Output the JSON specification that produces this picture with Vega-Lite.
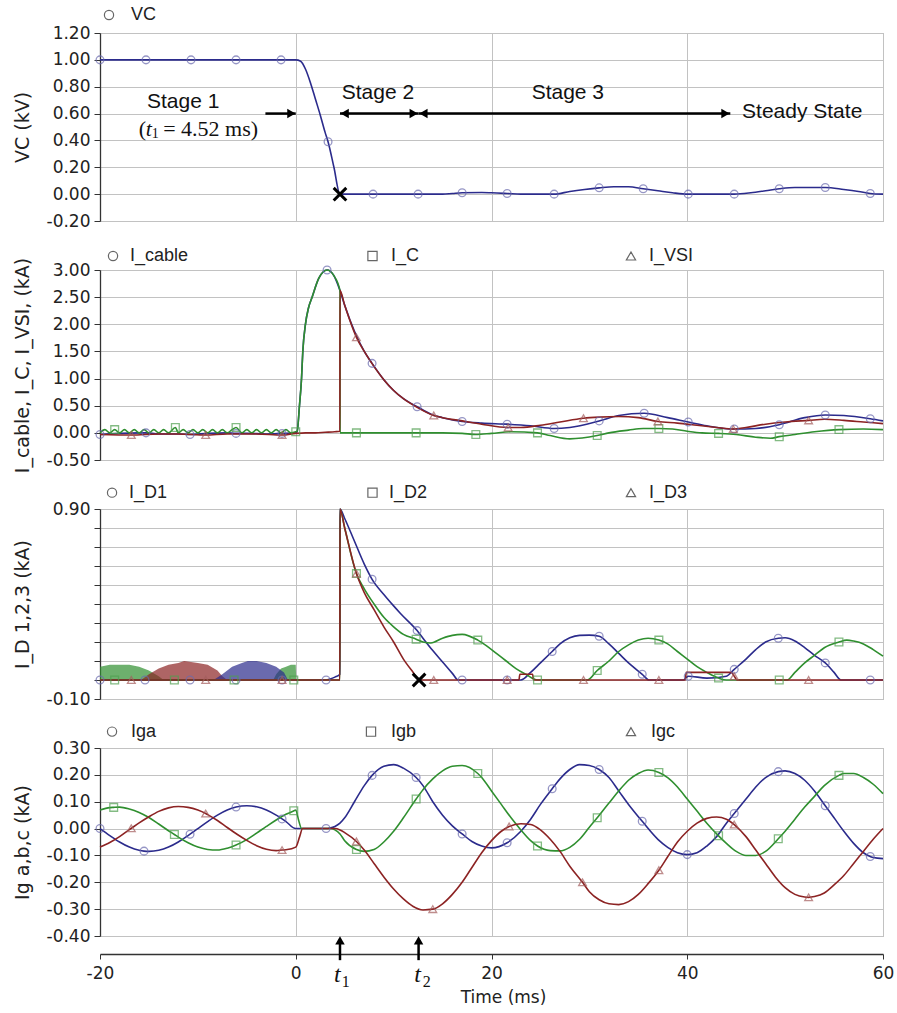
{
"$schema": "https://vega.github.io/schema/vega-lite/v6.json",
"padding": {"left": 12, "top": 5, "right": 5, "bottom": 5},
"config": {
  "font": "Liberation Sans",
  "view": {"stroke": "#a8a8a8", "strokeWidth": 1},
  "axis": {"labelFontSize": 17, "titleFontSize": 17, "labelColor": "#222", "titleColor": "#222", "titleFontWeight": "normal", "labelFont": "DejaVu Sans", "titleFont": "DejaVu Sans", "gridColor": "#c2c2c2", "gridWidth": 1, "domainColor": "#333", "tickColor": "#333"},
  "axisY": {"tickSize": 6, "labelPadding": 4, "titlePadding": 14, "titleFontSize": 19, "domainWidth": 1.3}
},
"spacing": 49,
"bounds": "flush",
"resolve": {"scale": {"y": "independent", "color": "independent", "stroke": "independent", "shape": "independent"}},
"datasets": {
  "tl": [{"t": 4.52}, {"t": 12.55}],
  "vc": [
    {"t":-20,"v":1,"s":"VC","m":1},{"t":-15.3,"v":1,"s":"VC","m":1},{"t":-10.7,"v":1,"s":"VC","m":1},{"t":-6.1,"v":1,"s":"VC","m":1},{"t":-1.5,"v":1,"s":"VC","m":1},
    {"t":0,"v":1,"s":"VC"},{"t":0.5,"v":0.99,"s":"VC"},{"t":1,"v":0.93,"s":"VC"},{"t":1.5,"v":0.83,"s":"VC"},{"t":2,"v":0.71,"s":"VC"},{"t":2.5,"v":0.59,"s":"VC"},{"t":3,"v":0.46,"s":"VC"},
    {"t":3.3,"v":0.39,"s":"VC","m":1},{"t":3.9,"v":0.2,"s":"VC"},{"t":4.52,"v":0,"s":"VC"},{"t":7.9,"v":0,"s":"VC","m":1},{"t":12.5,"v":0,"s":"VC","m":1},
    {"t":15,"v":0,"s":"VC"},{"t":16,"v":0.005,"s":"VC"},{"t":17,"v":0.01,"s":"VC","m":1},{"t":19,"v":0.012,"s":"VC"},{"t":20,"v":0.01,"s":"VC"},{"t":21.6,"v":0.005,"s":"VC","m":1},
    {"t":23,"v":0,"s":"VC"},{"t":26.4,"v":0,"s":"VC","m":1},{"t":28,"v":0.02,"s":"VC"},{"t":29.5,"v":0.035,"s":"VC"},{"t":31,"v":0.047,"s":"VC","m":1},{"t":32.5,"v":0.055,"s":"VC"},
    {"t":34,"v":0.055,"s":"VC"},{"t":35.5,"v":0.04,"s":"VC","m":1},{"t":37,"v":0.025,"s":"VC"},{"t":38.5,"v":0.01,"s":"VC"},{"t":40.1,"v":0,"s":"VC","m":1},{"t":44.8,"v":0,"s":"VC","m":1},
    {"t":46.5,"v":0.01,"s":"VC"},{"t":48,"v":0.025,"s":"VC"},{"t":49.4,"v":0.04,"s":"VC","m":1},{"t":51,"v":0.05,"s":"VC"},{"t":54.1,"v":0.05,"s":"VC","m":1},{"t":56,"v":0.035,"s":"VC"},
    {"t":57.5,"v":0.02,"s":"VC"},{"t":58.7,"v":0.005,"s":"VC","m":1},{"t":60,"v":0,"s":"VC"}
  ],
  "p2": [
    {"t":-20,"v":-0.03,"s":"I_cable","m":1},{"t":-18,"v":-0.01,"s":"I_cable"},{"t":-16,"v":0,"s":"I_cable"},{"t":-15.3,"v":0,"s":"I_cable","m":1},{"t":-14,"v":-0.02,"s":"I_cable"},
    {"t":-12,"v":-0.02,"s":"I_cable"},{"t":-10.8,"v":-0.03,"s":"I_cable","m":1},{"t":-9,"v":-0.01,"s":"I_cable"},{"t":-7,"v":0,"s":"I_cable"},{"t":-6.1,"v":-0.01,"s":"I_cable","m":1},
    {"t":-5,"v":-0.01,"s":"I_cable"},{"t":-3,"v":-0.02,"s":"I_cable"},{"t":-1.4,"v":-0.01,"s":"I_cable","m":1},{"t":0,"v":0,"s":"I_cable"},{"t":0.14,"v":0.02,"s":"I_cable"},
    {"t":0.38,"v":0.5,"s":"I_cable"},{"t":0.59,"v":1.0,"s":"I_cable"},{"t":0.72,"v":1.5,"s":"I_cable"},{"t":0.99,"v":2.0,"s":"I_cable"},{"t":1.3,"v":2.3,"s":"I_cable"},
    {"t":1.67,"v":2.5,"s":"I_cable"},{"t":2.36,"v":2.85,"s":"I_cable"},{"t":3.2,"v":3.0,"s":"I_cable","m":1},{"t":3.88,"v":2.9,"s":"I_cable"},{"t":4.52,"v":2.62,"s":"I_cable"},
    {"t":5,"v":2.35,"s":"I_cable"},{"t":6,"v":1.87,"s":"I_cable"},{"t":7,"v":1.5,"s":"I_cable"},{"t":7.8,"v":1.28,"s":"I_cable","m":1},{"t":9,"v":0.98,"s":"I_cable"},
    {"t":10,"v":0.78,"s":"I_cable"},{"t":11,"v":0.63,"s":"I_cable"},{"t":12.4,"v":0.48,"s":"I_cable","m":1},{"t":13,"v":0.42,"s":"I_cable"},{"t":14,"v":0.33,"s":"I_cable"},
    {"t":15,"v":0.28,"s":"I_cable"},{"t":17,"v":0.21,"s":"I_cable","m":1},{"t":19,"v":0.18,"s":"I_cable"},{"t":21.6,"v":0.16,"s":"I_cable","m":1},{"t":24,"v":0.13,"s":"I_cable"},
    {"t":26.4,"v":0.08,"s":"I_cable","m":1},{"t":28,"v":0.1,"s":"I_cable"},{"t":31,"v":0.22,"s":"I_cable","m":1},{"t":33,"v":0.32,"s":"I_cable"},{"t":35.6,"v":0.36,"s":"I_cable","m":1},
    {"t":38,"v":0.28,"s":"I_cable"},{"t":40.1,"v":0.2,"s":"I_cable","m":1},{"t":42,"v":0.13,"s":"I_cable"},{"t":44.8,"v":0.07,"s":"I_cable","m":1},{"t":47,"v":0.08,"s":"I_cable"},
    {"t":49.4,"v":0.15,"s":"I_cable","m":1},{"t":52,"v":0.28,"s":"I_cable"},{"t":54.1,"v":0.33,"s":"I_cable","m":1},{"t":56,"v":0.32,"s":"I_cable"},{"t":58.7,"v":0.26,"s":"I_cable","m":1},
    {"t":60,"v":0.22,"s":"I_cable"},

    {"t":-20,"v":0,"s":"I_C"},{"t":-19.5,"v":0.06,"s":"I_C"},{"t":-19,"v":0,"s":"I_C"},{"t":-18.5,"v":0.06,"s":"I_C","m":1},{"t":-18,"v":0,"s":"I_C"},{"t":-17.5,"v":0.06,"s":"I_C"},
    {"t":-17,"v":0,"s":"I_C"},{"t":-16.5,"v":0.06,"s":"I_C"},{"t":-16,"v":0,"s":"I_C"},{"t":-15.5,"v":0.06,"s":"I_C"},{"t":-15,"v":0,"s":"I_C"},{"t":-14.5,"v":0.06,"s":"I_C"},
    {"t":-14,"v":0,"s":"I_C"},{"t":-13.5,"v":0.06,"s":"I_C"},{"t":-13,"v":0,"s":"I_C"},{"t":-12.3,"v":0.1,"s":"I_C","m":1},{"t":-12,"v":0,"s":"I_C"},{"t":-11.5,"v":0.06,"s":"I_C"},
    {"t":-11,"v":0,"s":"I_C"},{"t":-10.5,"v":0.06,"s":"I_C"},{"t":-10,"v":0,"s":"I_C"},{"t":-9.5,"v":0.06,"s":"I_C"},{"t":-9,"v":0,"s":"I_C"},{"t":-8.5,"v":0.06,"s":"I_C"},
    {"t":-8,"v":0,"s":"I_C"},{"t":-7.5,"v":0.06,"s":"I_C"},{"t":-7,"v":0,"s":"I_C"},{"t":-6.5,"v":0.06,"s":"I_C"},{"t":-6.1,"v":0.1,"s":"I_C","m":1},{"t":-5.5,"v":0,"s":"I_C"},
    {"t":-5,"v":0.06,"s":"I_C"},{"t":-4.5,"v":0,"s":"I_C"},{"t":-4,"v":0.06,"s":"I_C"},{"t":-3.5,"v":0,"s":"I_C"},{"t":-3,"v":0.06,"s":"I_C"},{"t":-2.5,"v":0,"s":"I_C"},
    {"t":-2,"v":0.06,"s":"I_C"},{"t":-1.5,"v":0,"s":"I_C"},{"t":-1,"v":0.06,"s":"I_C"},{"t":-0.5,"v":0,"s":"I_C"},{"t":0,"v":0.02,"s":"I_C","m":1},{"t":0.14,"v":0.03,"s":"I_C"},
    {"t":0.38,"v":0.5,"s":"I_C"},{"t":0.59,"v":1.0,"s":"I_C"},{"t":0.72,"v":1.5,"s":"I_C"},{"t":0.99,"v":2.0,"s":"I_C"},{"t":1.3,"v":2.3,"s":"I_C"},{"t":1.67,"v":2.5,"s":"I_C"},
    {"t":2.36,"v":2.85,"s":"I_C"},{"t":3.2,"v":3.0,"s":"I_C"},{"t":3.88,"v":2.9,"s":"I_C"},{"t":4.52,"v":2.62,"s":"I_C"},{"t":4.53,"v":0,"s":"I_C"},{"t":6.2,"v":0,"s":"I_C","m":1},
    {"t":12.3,"v":0,"s":"I_C","m":1},{"t":15,"v":0,"s":"I_C"},{"t":17,"v":-0.01,"s":"I_C"},{"t":18.4,"v":-0.03,"s":"I_C","m":1},{"t":20,"v":-0.01,"s":"I_C"},{"t":22,"v":0.02,"s":"I_C"},
    {"t":24.7,"v":0,"s":"I_C","m":1},{"t":26,"v":-0.05,"s":"I_C"},{"t":28,"v":-0.11,"s":"I_C"},{"t":30.8,"v":-0.05,"s":"I_C","m":1},{"t":32,"v":0,"s":"I_C"},{"t":34,"v":0.05,"s":"I_C"},
    {"t":35.5,"v":0.08,"s":"I_C"},{"t":37.1,"v":0.08,"s":"I_C","m":1},{"t":38.5,"v":0.07,"s":"I_C"},{"t":40,"v":0.03,"s":"I_C"},{"t":41.5,"v":0,"s":"I_C"},{"t":43.2,"v":-0.01,"s":"I_C","m":1},
    {"t":45,"v":-0.03,"s":"I_C"},{"t":47,"v":-0.08,"s":"I_C"},{"t":48.5,"v":-0.1,"s":"I_C"},{"t":49.4,"v":-0.07,"s":"I_C","m":1},{"t":51,"v":-0.03,"s":"I_C"},{"t":53,"v":0.02,"s":"I_C"},
    {"t":55.5,"v":0.06,"s":"I_C","m":1},{"t":58,"v":0.07,"s":"I_C"},{"t":60,"v":0.06,"s":"I_C"},

    {"t":-20,"v":-0.03,"s":"I_VSI"},{"t":-16.8,"v":-0.04,"s":"I_VSI","m":1},{"t":-14,"v":-0.02,"s":"I_VSI"},{"t":-12,"v":-0.02,"s":"I_VSI"},{"t":-9.2,"v":-0.04,"s":"I_VSI","m":1},
    {"t":-7,"v":-0.02,"s":"I_VSI"},{"t":-4,"v":-0.02,"s":"I_VSI"},{"t":-1.4,"v":-0.04,"s":"I_VSI","m":1},{"t":0,"v":-0.01,"s":"I_VSI"},{"t":1,"v":0,"s":"I_VSI"},{"t":2,"v":0,"s":"I_VSI"},
    {"t":3,"v":0.01,"s":"I_VSI"},{"t":4,"v":0.02,"s":"I_VSI"},{"t":4.51,"v":0.03,"s":"I_VSI"},{"t":4.52,"v":2.62,"s":"I_VSI"},{"t":5,"v":2.35,"s":"I_VSI"},{"t":6.2,"v":1.76,"s":"I_VSI","m":1},
    {"t":7,"v":1.5,"s":"I_VSI"},{"t":8,"v":1.22,"s":"I_VSI"},{"t":9,"v":0.98,"s":"I_VSI"},{"t":10,"v":0.78,"s":"I_VSI"},{"t":11,"v":0.63,"s":"I_VSI"},{"t":12.4,"v":0.47,"s":"I_VSI"},
    {"t":14.1,"v":0.32,"s":"I_VSI","m":1},{"t":15,"v":0.28,"s":"I_VSI"},{"t":17,"v":0.22,"s":"I_VSI"},{"t":19,"v":0.16,"s":"I_VSI"},{"t":21.7,"v":0.1,"s":"I_VSI","m":1},{"t":23,"v":0.1,"s":"I_VSI"},
    {"t":25,"v":0.14,"s":"I_VSI"},{"t":27,"v":0.2,"s":"I_VSI"},{"t":29.4,"v":0.27,"s":"I_VSI","m":1},{"t":31,"v":0.29,"s":"I_VSI"},{"t":33,"v":0.3,"s":"I_VSI"},{"t":35,"v":0.28,"s":"I_VSI"},
    {"t":37,"v":0.21,"s":"I_VSI","m":1},{"t":39,"v":0.18,"s":"I_VSI"},{"t":41,"v":0.14,"s":"I_VSI"},{"t":43,"v":0.1,"s":"I_VSI"},{"t":44.7,"v":0.07,"s":"I_VSI","m":1},{"t":46,"v":0.1,"s":"I_VSI"},
    {"t":48,"v":0.16,"s":"I_VSI"},{"t":50,"v":0.2,"s":"I_VSI"},{"t":52.4,"v":0.23,"s":"I_VSI","m":1},{"t":54,"v":0.25,"s":"I_VSI"},{"t":56,"v":0.23,"s":"I_VSI"},{"t":58,"v":0.2,"s":"I_VSI"},
    {"t":60,"v":0.17,"s":"I_VSI"}
  ],
  "p3": [
    {"t":-20,"v":0,"s":"I_D1","m":1},{"t":-15.4,"v":0,"s":"I_D1","m":1},{"t":-10.8,"v":0,"s":"I_D1","m":1},{"t":-6.1,"v":0,"s":"I_D1","m":1},{"t":-1.4,"v":0,"s":"I_D1","m":1},
    {"t":3.1,"v":0,"s":"I_D1","m":1},{"t":3.5,"v":0.005,"s":"I_D1"},{"t":4,"v":0.015,"s":"I_D1"},{"t":4.51,"v":0.03,"s":"I_D1"},{"t":4.52,"v":0.9,"s":"I_D1"},{"t":5,"v":0.85,"s":"I_D1"},
    {"t":6,"v":0.73,"s":"I_D1"},{"t":7,"v":0.61,"s":"I_D1"},{"t":7.8,"v":0.53,"s":"I_D1","m":1},{"t":9,"v":0.45,"s":"I_D1"},{"t":10,"v":0.39,"s":"I_D1"},{"t":10.7,"v":0.35,"s":"I_D1"},
    {"t":12.4,"v":0.26,"s":"I_D1","m":1},{"t":13,"v":0.22,"s":"I_D1"},{"t":14,"v":0.155,"s":"I_D1"},{"t":15,"v":0.095,"s":"I_D1"},{"t":16,"v":0.035,"s":"I_D1"},{"t":16.6,"v":0,"s":"I_D1"},
    {"t":17,"v":0,"s":"I_D1","m":1},{"t":21.6,"v":0,"s":"I_D1","m":1},{"t":23,"v":0,"s":"I_D1"},{"t":24,"v":0.04,"s":"I_D1"},{"t":25,"v":0.09,"s":"I_D1"},{"t":26.2,"v":0.15,"s":"I_D1","m":1},
    {"t":27,"v":0.19,"s":"I_D1"},{"t":28,"v":0.222,"s":"I_D1"},{"t":29,"v":0.235,"s":"I_D1"},{"t":30,"v":0.236,"s":"I_D1"},{"t":31,"v":0.23,"s":"I_D1","m":1},{"t":32,"v":0.19,"s":"I_D1"},
    {"t":33,"v":0.14,"s":"I_D1"},{"t":34,"v":0.09,"s":"I_D1"},{"t":35.4,"v":0.03,"s":"I_D1","m":1},{"t":36.1,"v":0,"s":"I_D1"},{"t":39.6,"v":0,"s":"I_D1"},{"t":40.1,"v":0.02,"s":"I_D1","m":1},
    {"t":42,"v":0.01,"s":"I_D1"},{"t":44,"v":0.02,"s":"I_D1"},{"t":44.8,"v":0.056,"s":"I_D1","m":1},{"t":46,"v":0.11,"s":"I_D1"},{"t":47,"v":0.16,"s":"I_D1"},{"t":48,"v":0.2,"s":"I_D1"},
    {"t":49.3,"v":0.22,"s":"I_D1","m":1},{"t":50,"v":0.222,"s":"I_D1"},{"t":51,"v":0.205,"s":"I_D1"},{"t":52,"v":0.17,"s":"I_D1"},{"t":53,"v":0.13,"s":"I_D1"},{"t":54.1,"v":0.09,"s":"I_D1","m":1},
    {"t":55,"v":0.04,"s":"I_D1"},{"t":55.7,"v":0,"s":"I_D1"},{"t":58.7,"v":0,"s":"I_D1","m":1},{"t":60,"v":0,"s":"I_D1"},

    {"t":-20,"v":0,"s":"I_D2"},{"t":-18.5,"v":0,"s":"I_D2","m":1},{"t":-12.4,"v":0,"s":"I_D2","m":1},{"t":-6.3,"v":0,"s":"I_D2","m":1},{"t":-0.2,"v":0,"s":"I_D2","m":1},{"t":4.51,"v":0,"s":"I_D2"},
    {"t":4.52,"v":0.9,"s":"I_D2"},{"t":5,"v":0.8,"s":"I_D2"},{"t":6.2,"v":0.56,"s":"I_D2","m":1},{"t":7,"v":0.48,"s":"I_D2"},{"t":8,"v":0.4,"s":"I_D2"},{"t":9,"v":0.33,"s":"I_D2"},
    {"t":10,"v":0.28,"s":"I_D2"},{"t":11,"v":0.24,"s":"I_D2"},{"t":12.3,"v":0.215,"s":"I_D2","m":1},{"t":13,"v":0.2,"s":"I_D2"},{"t":13.8,"v":0.195,"s":"I_D2"},{"t":15,"v":0.22,"s":"I_D2"},
    {"t":16,"v":0.235,"s":"I_D2"},{"t":17,"v":0.24,"s":"I_D2"},{"t":18.6,"v":0.21,"s":"I_D2","m":1},{"t":19.5,"v":0.18,"s":"I_D2"},{"t":20.5,"v":0.14,"s":"I_D2"},{"t":21.5,"v":0.1,"s":"I_D2"},
    {"t":22.5,"v":0.06,"s":"I_D2"},{"t":23.5,"v":0.03,"s":"I_D2"},{"t":24.7,"v":0,"s":"I_D2","m":1},{"t":29.8,"v":0,"s":"I_D2"},{"t":30.8,"v":0.05,"s":"I_D2","m":1},{"t":32,"v":0.1,"s":"I_D2"},
    {"t":33,"v":0.15,"s":"I_D2"},{"t":34,"v":0.185,"s":"I_D2"},{"t":35,"v":0.21,"s":"I_D2"},{"t":36,"v":0.22,"s":"I_D2"},{"t":37.1,"v":0.21,"s":"I_D2","m":1},{"t":38,"v":0.19,"s":"I_D2"},
    {"t":39,"v":0.15,"s":"I_D2"},{"t":40,"v":0.11,"s":"I_D2"},{"t":41,"v":0.07,"s":"I_D2"},{"t":42,"v":0.04,"s":"I_D2"},{"t":43.2,"v":0.01,"s":"I_D2","m":1},{"t":44,"v":0,"s":"I_D2"},
    {"t":49.4,"v":0,"s":"I_D2","m":1},{"t":50.2,"v":0,"s":"I_D2"},{"t":51,"v":0.04,"s":"I_D2"},{"t":52,"v":0.09,"s":"I_D2"},{"t":53,"v":0.13,"s":"I_D2"},{"t":54,"v":0.17,"s":"I_D2"},
    {"t":55.5,"v":0.2,"s":"I_D2","m":1},{"t":56.3,"v":0.21,"s":"I_D2"},{"t":57,"v":0.205,"s":"I_D2"},{"t":58,"v":0.19,"s":"I_D2"},{"t":59,"v":0.16,"s":"I_D2"},{"t":60,"v":0.126,"s":"I_D2"},

    {"t":-20,"v":0,"s":"I_D3"},{"t":-16.8,"v":0,"s":"I_D3","m":1},{"t":-9.2,"v":0,"s":"I_D3","m":1},{"t":-1.4,"v":0,"s":"I_D3","m":1},{"t":4.51,"v":0,"s":"I_D3"},{"t":4.52,"v":0.9,"s":"I_D3"},
    {"t":5,"v":0.8,"s":"I_D3"},{"t":6.2,"v":0.56,"s":"I_D3","m":1},{"t":7,"v":0.46,"s":"I_D3"},{"t":8,"v":0.37,"s":"I_D3"},{"t":9,"v":0.28,"s":"I_D3"},{"t":10,"v":0.2,"s":"I_D3"},
    {"t":11,"v":0.11,"s":"I_D3"},{"t":12,"v":0.04,"s":"I_D3"},{"t":12.6,"v":0,"s":"I_D3"},{"t":14.1,"v":0,"s":"I_D3","m":1},{"t":21.6,"v":0,"s":"I_D3","m":1},{"t":22.8,"v":0,"s":"I_D3"},
    {"t":22.9,"v":0.03,"s":"I_D3"},{"t":24.2,"v":0.03,"s":"I_D3"},{"t":24.3,"v":0,"s":"I_D3"},{"t":29.4,"v":0,"s":"I_D3","m":1},{"t":37.1,"v":0,"s":"I_D3","m":1},{"t":39.8,"v":0,"s":"I_D3"},
    {"t":39.9,"v":0.04,"s":"I_D3"},{"t":44.5,"v":0.04,"s":"I_D3"},{"t":44.8,"v":0.02,"s":"I_D3","m":1},{"t":45.1,"v":0,"s":"I_D3"},{"t":52.4,"v":0,"s":"I_D3","m":1},{"t":60,"v":0,"s":"I_D3"}
  ],
  "chat": [
    {"t":-20,"v":0.07,"s":"I_D2"},{"t":-19,"v":0.08,"s":"I_D2"},{"t":-18,"v":0.08,"s":"I_D2"},{"t":-17,"v":0.08,"s":"I_D2"},{"t":-16,"v":0.07,"s":"I_D2"},{"t":-15,"v":0.05,"s":"I_D2"},
    {"t":-14,"v":0.02,"s":"I_D2"},{"t":-13.5,"v":0,"s":"I_D2"},{"t":-2.3,"v":0,"s":"I_D2"},{"t":-2,"v":0.03,"s":"I_D2"},{"t":-1.5,"v":0.06,"s":"I_D2"},{"t":-1,"v":0.07,"s":"I_D2"},
    {"t":-0.5,"v":0.08,"s":"I_D2"},{"t":0,"v":0.08,"s":"I_D2"},{"t":0.05,"v":0,"s":"I_D2"},
    {"t":-15.8,"v":0,"s":"I_D3"},{"t":-15,"v":0.03,"s":"I_D3"},{"t":-14,"v":0.06,"s":"I_D3"},{"t":-13,"v":0.08,"s":"I_D3"},{"t":-12,"v":0.09,"s":"I_D3"},{"t":-11.4,"v":0.1,"s":"I_D3"},
    {"t":-10,"v":0.09,"s":"I_D3"},{"t":-9,"v":0.08,"s":"I_D3"},{"t":-8,"v":0.05,"s":"I_D3"},{"t":-7.5,"v":0.02,"s":"I_D3"},{"t":-7,"v":0,"s":"I_D3"},
    {"t":-8.4,"v":0,"s":"I_D1"},{"t":-7.5,"v":0.03,"s":"I_D1"},{"t":-6.5,"v":0.07,"s":"I_D1"},{"t":-5.5,"v":0.09,"s":"I_D1"},{"t":-4.9,"v":0.1,"s":"I_D1"},{"t":-4,"v":0.1,"s":"I_D1"},
    {"t":-3,"v":0.09,"s":"I_D1"},{"t":-2,"v":0.07,"s":"I_D1"},{"t":-1.2,"v":0.04,"s":"I_D1"},{"t":-0.8,"v":0,"s":"I_D1"}
  ],
  "p4": [
    {"t":-20,"v":0,"s":"Iga","m":1},{"t":-19,"v":-0.026,"s":"Iga"},{"t":-18,"v":-0.05,"s":"Iga"},{"t":-17,"v":-0.069,"s":"Iga"},{"t":-16,"v":-0.081,"s":"Iga"},{"t":-15.5,"v":-0.084,"s":"Iga","m":1},
    {"t":-15,"v":-0.085,"s":"Iga"},{"t":-14,"v":-0.081,"s":"Iga"},{"t":-13,"v":-0.069,"s":"Iga"},{"t":-12,"v":-0.05,"s":"Iga"},{"t":-11,"v":-0.026,"s":"Iga"},{"t":-10.8,"v":-0.021,"s":"Iga","m":1},
    {"t":-10,"v":0,"s":"Iga"},{"t":-9,"v":0.026,"s":"Iga"},{"t":-8,"v":0.05,"s":"Iga"},{"t":-7,"v":0.069,"s":"Iga"},{"t":-6.1,"v":0.08,"s":"Iga","m":1},{"t":-5,"v":0.085,"s":"Iga"},
    {"t":-4,"v":0.081,"s":"Iga"},{"t":-3,"v":0.069,"s":"Iga"},{"t":-2,"v":0.05,"s":"Iga"},{"t":-1.4,"v":0.036,"s":"Iga","m":1},{"t":-1,"v":0.026,"s":"Iga"},{"t":0,"v":0,"s":"Iga"},
    {"t":1,"v":0,"s":"Iga"},{"t":2,"v":0,"s":"Iga"},{"t":3.1,"v":0,"s":"Iga","m":1},{"t":3.5,"v":0.002,"s":"Iga"},{"t":4,"v":0.008,"s":"Iga"},{"t":4.52,"v":0.02,"s":"Iga"},
    {"t":5,"v":0.04,"s":"Iga"},{"t":6,"v":0.1,"s":"Iga"},{"t":7,"v":0.16,"s":"Iga"},{"t":7.8,"v":0.198,"s":"Iga","m":1},{"t":9,"v":0.232,"s":"Iga"},{"t":10,"v":0.238,"s":"Iga"},
    {"t":11,"v":0.225,"s":"Iga"},{"t":12.3,"v":0.19,"s":"Iga","m":1},{"t":13,"v":0.16,"s":"Iga"},{"t":14,"v":0.1,"s":"Iga"},{"t":15,"v":0.05,"s":"Iga"},{"t":16,"v":0.01,"s":"Iga"},
    {"t":17,"v":-0.02,"s":"Iga","m":1},{"t":18,"v":-0.048,"s":"Iga"},{"t":19,"v":-0.065,"s":"Iga"},{"t":20,"v":-0.072,"s":"Iga"},{"t":21.6,"v":-0.053,"s":"Iga","m":1},{"t":23,"v":-0.01,"s":"Iga"},
    {"t":24,"v":0.035,"s":"Iga"},{"t":25,"v":0.09,"s":"Iga"},{"t":26.2,"v":0.148,"s":"Iga","m":1},{"t":27,"v":0.185,"s":"Iga"},{"t":28,"v":0.22,"s":"Iga"},{"t":29,"v":0.238,"s":"Iga"},
    {"t":30,"v":0.235,"s":"Iga"},{"t":31,"v":0.22,"s":"Iga","m":1},{"t":32,"v":0.19,"s":"Iga"},{"t":33,"v":0.14,"s":"Iga"},{"t":34,"v":0.09,"s":"Iga"},{"t":35.4,"v":0.027,"s":"Iga","m":1},
    {"t":37,"v":-0.04,"s":"Iga"},{"t":38,"v":-0.07,"s":"Iga"},{"t":39,"v":-0.09,"s":"Iga"},{"t":40,"v":-0.097,"s":"Iga","m":1},{"t":41,"v":-0.09,"s":"Iga"},{"t":42,"v":-0.065,"s":"Iga"},
    {"t":43,"v":-0.03,"s":"Iga"},{"t":44,"v":0.02,"s":"Iga"},{"t":44.8,"v":0.056,"s":"Iga","m":1},{"t":46,"v":0.11,"s":"Iga"},{"t":47,"v":0.155,"s":"Iga"},{"t":48,"v":0.19,"s":"Iga"},
    {"t":49.3,"v":0.212,"s":"Iga","m":1},{"t":50,"v":0.215,"s":"Iga"},{"t":51,"v":0.205,"s":"Iga"},{"t":52,"v":0.18,"s":"Iga"},{"t":53,"v":0.14,"s":"Iga"},{"t":54.1,"v":0.085,"s":"Iga","m":1},
    {"t":55,"v":0.04,"s":"Iga"},{"t":56,"v":-0.01,"s":"Iga"},{"t":57,"v":-0.055,"s":"Iga"},{"t":58,"v":-0.09,"s":"Iga"},{"t":58.7,"v":-0.104,"s":"Iga","m":1},{"t":59,"v":-0.108,"s":"Iga"},
    {"t":60,"v":-0.112,"s":"Iga"},

    {"t":-20,"v":0.069,"s":"Igb"},{"t":-19,"v":0.078,"s":"Igb"},{"t":-18.6,"v":0.079,"s":"Igb","m":1},{"t":-18,"v":0.08,"s":"Igb"},{"t":-17,"v":0.073,"s":"Igb"},{"t":-16,"v":0.06,"s":"Igb"},
    {"t":-15,"v":0.041,"s":"Igb"},{"t":-14,"v":0.017,"s":"Igb"},{"t":-13,"v":-0.008,"s":"Igb"},{"t":-12.4,"v":-0.022,"s":"Igb","m":1},{"t":-12,"v":-0.032,"s":"Igb"},{"t":-11,"v":-0.053,"s":"Igb"},
    {"t":-10,"v":-0.069,"s":"Igb"},{"t":-9,"v":-0.078,"s":"Igb"},{"t":-8,"v":-0.08,"s":"Igb"},{"t":-7,"v":-0.073,"s":"Igb"},{"t":-6.1,"v":-0.061,"s":"Igb","m":1},{"t":-5,"v":-0.041,"s":"Igb"},
    {"t":-4,"v":-0.017,"s":"Igb"},{"t":-3,"v":0.008,"s":"Igb"},{"t":-2,"v":0.032,"s":"Igb"},{"t":-1,"v":0.053,"s":"Igb"},{"t":-0.2,"v":0.066,"s":"Igb","m":1},{"t":0,"v":0.069,"s":"Igb"},
    {"t":0.3,"v":0.03,"s":"Igb"},{"t":0.6,"v":0,"s":"Igb"},{"t":1,"v":0,"s":"Igb"},{"t":2,"v":0,"s":"Igb"},{"t":3,"v":0,"s":"Igb"},{"t":3.5,"v":0,"s":"Igb"},
    {"t":4,"v":-0.005,"s":"Igb"},{"t":4.52,"v":-0.02,"s":"Igb"},{"t":5,"v":-0.045,"s":"Igb"},{"t":6.2,"v":-0.078,"s":"Igb","m":1},{"t":7,"v":-0.085,"s":"Igb"},{"t":8,"v":-0.078,"s":"Igb"},
    {"t":9,"v":-0.05,"s":"Igb"},{"t":10,"v":-0.01,"s":"Igb"},{"t":11,"v":0.04,"s":"Igb"},{"t":12.3,"v":0.11,"s":"Igb","m":1},{"t":13,"v":0.145,"s":"Igb"},{"t":14,"v":0.185,"s":"Igb"},
    {"t":15,"v":0.215,"s":"Igb"},{"t":16,"v":0.232,"s":"Igb"},{"t":17,"v":0.235,"s":"Igb"},{"t":18.6,"v":0.205,"s":"Igb","m":1},{"t":19,"v":0.19,"s":"Igb"},{"t":20,"v":0.14,"s":"Igb"},
    {"t":21,"v":0.09,"s":"Igb"},{"t":22,"v":0.04,"s":"Igb"},{"t":23,"v":-0.005,"s":"Igb"},{"t":24,"v":-0.045,"s":"Igb"},{"t":24.7,"v":-0.065,"s":"Igb","m":1},{"t":26,"v":-0.082,"s":"Igb"},
    {"t":27,"v":-0.083,"s":"Igb"},{"t":28,"v":-0.07,"s":"Igb"},{"t":29,"v":-0.04,"s":"Igb"},{"t":30,"v":0.005,"s":"Igb"},{"t":30.8,"v":0.04,"s":"Igb","m":1},{"t":32,"v":0.095,"s":"Igb"},
    {"t":33,"v":0.14,"s":"Igb"},{"t":34,"v":0.18,"s":"Igb"},{"t":35,"v":0.205,"s":"Igb"},{"t":36,"v":0.218,"s":"Igb"},{"t":37.1,"v":0.209,"s":"Igb","m":1},{"t":38,"v":0.19,"s":"Igb"},
    {"t":39,"v":0.155,"s":"Igb"},{"t":40,"v":0.11,"s":"Igb"},{"t":41,"v":0.065,"s":"Igb"},{"t":42,"v":0.02,"s":"Igb"},{"t":43.2,"v":-0.027,"s":"Igb","m":1},{"t":44,"v":-0.055,"s":"Igb"},
    {"t":45,"v":-0.085,"s":"Igb"},{"t":46,"v":-0.1,"s":"Igb"},{"t":47,"v":-0.1,"s":"Igb"},{"t":48,"v":-0.085,"s":"Igb"},{"t":49.3,"v":-0.038,"s":"Igb","m":1},{"t":50,"v":-0.01,"s":"Igb"},
    {"t":51,"v":0.035,"s":"Igb"},{"t":52,"v":0.08,"s":"Igb"},{"t":53,"v":0.12,"s":"Igb"},{"t":54,"v":0.16,"s":"Igb"},{"t":55.5,"v":0.198,"s":"Igb","m":1},{"t":56,"v":0.205,"s":"Igb"},
    {"t":57,"v":0.205,"s":"Igb"},{"t":58,"v":0.19,"s":"Igb"},{"t":59,"v":0.165,"s":"Igb"},{"t":60,"v":0.13,"s":"Igb"},

    {"t":-20,"v":-0.069,"s":"Igc"},{"t":-19,"v":-0.052,"s":"Igc"},{"t":-18,"v":-0.03,"s":"Igc"},{"t":-17,"v":-0.004,"s":"Igc"},{"t":-16.8,"v":0.001,"s":"Igc","m":1},{"t":-16,"v":0.021,"s":"Igc"},
    {"t":-15,"v":0.044,"s":"Igc"},{"t":-14,"v":0.064,"s":"Igc"},{"t":-13,"v":0.077,"s":"Igc"},{"t":-12,"v":0.082,"s":"Igc"},{"t":-11,"v":0.079,"s":"Igc"},{"t":-10,"v":0.069,"s":"Igc"},
    {"t":-9.2,"v":0.056,"s":"Igc","m":1},{"t":-9,"v":0.052,"s":"Igc"},{"t":-8,"v":0.03,"s":"Igc"},{"t":-7,"v":0.004,"s":"Igc"},{"t":-6,"v":-0.021,"s":"Igc"},{"t":-5,"v":-0.044,"s":"Igc"},
    {"t":-4,"v":-0.064,"s":"Igc"},{"t":-3,"v":-0.077,"s":"Igc"},{"t":-2,"v":-0.082,"s":"Igc"},{"t":-1.4,"v":-0.08,"s":"Igc","m":1},{"t":-1,"v":-0.079,"s":"Igc"},{"t":0,"v":-0.069,"s":"Igc"},
    {"t":0.4,"v":-0.03,"s":"Igc"},{"t":0.7,"v":0,"s":"Igc"},{"t":1,"v":0,"s":"Igc"},{"t":2,"v":0,"s":"Igc"},{"t":3,"v":0,"s":"Igc"},{"t":4,"v":0,"s":"Igc"},
    {"t":4.52,"v":-0.005,"s":"Igc"},{"t":5,"v":-0.015,"s":"Igc"},{"t":6.2,"v":-0.048,"s":"Igc","m":1},{"t":7,"v":-0.08,"s":"Igc"},{"t":8,"v":-0.13,"s":"Igc"},{"t":9,"v":-0.18,"s":"Igc"},
    {"t":10,"v":-0.225,"s":"Igc"},{"t":11,"v":-0.262,"s":"Igc"},{"t":12,"v":-0.29,"s":"Igc"},{"t":13,"v":-0.303,"s":"Igc"},{"t":14,"v":-0.3,"s":"Igc","m":1},{"t":15,"v":-0.28,"s":"Igc"},
    {"t":16,"v":-0.245,"s":"Igc"},{"t":17,"v":-0.2,"s":"Igc"},{"t":18,"v":-0.145,"s":"Igc"},{"t":19,"v":-0.09,"s":"Igc"},{"t":20,"v":-0.045,"s":"Igc"},{"t":21,"v":-0.01,"s":"Igc"},
    {"t":21.8,"v":0.008,"s":"Igc","m":1},{"t":23,"v":0.018,"s":"Igc"},{"t":24,"v":0.015,"s":"Igc"},{"t":25,"v":-0.005,"s":"Igc"},{"t":26,"v":-0.04,"s":"Igc"},{"t":27,"v":-0.085,"s":"Igc"},
    {"t":28,"v":-0.14,"s":"Igc"},{"t":29.3,"v":-0.2,"s":"Igc","m":1},{"t":30,"v":-0.235,"s":"Igc"},{"t":31,"v":-0.265,"s":"Igc"},{"t":32,"v":-0.28,"s":"Igc"},{"t":33,"v":-0.283,"s":"Igc"},
    {"t":34,"v":-0.272,"s":"Igc"},{"t":35,"v":-0.245,"s":"Igc"},{"t":36,"v":-0.205,"s":"Igc"},{"t":37.1,"v":-0.155,"s":"Igc","m":1},{"t":38,"v":-0.105,"s":"Igc"},{"t":39,"v":-0.05,"s":"Igc"},
    {"t":40,"v":-0.01,"s":"Igc"},{"t":41,"v":0.02,"s":"Igc"},{"t":42,"v":0.038,"s":"Igc"},{"t":43,"v":0.043,"s":"Igc"},{"t":44,"v":0.035,"s":"Igc"},{"t":44.8,"v":0.015,"s":"Igc","m":1},
    {"t":46,"v":-0.03,"s":"Igc"},{"t":47,"v":-0.08,"s":"Igc"},{"t":48,"v":-0.13,"s":"Igc"},{"t":49,"v":-0.18,"s":"Igc"},{"t":50,"v":-0.22,"s":"Igc"},{"t":51,"v":-0.245,"s":"Igc"},
    {"t":52,"v":-0.255,"s":"Igc"},{"t":52.4,"v":-0.256,"s":"Igc","m":1},{"t":53,"v":-0.253,"s":"Igc"},{"t":54,"v":-0.24,"s":"Igc"},{"t":55,"v":-0.21,"s":"Igc"},{"t":56,"v":-0.175,"s":"Igc"},
    {"t":57,"v":-0.13,"s":"Igc"},{"t":58,"v":-0.085,"s":"Igc"},{"t":59,"v":-0.04,"s":"Igc"},{"t":60,"v":0,"s":"Igc"}
  ]
},
"vconcat": [
  {
    "width": 783, "height": 188,
    "encoding": {
      "x": {"field": "t", "type": "quantitative", "scale": {"domain": [-20, 60], "nice": false, "zero": false}, "axis": {"values": [-20, 0, 20, 40, 60], "labels": false, "ticks": false, "domain": false, "grid": true, "title": null}},
      "y": {"field": "v", "type": "quantitative", "scale": {"domain": [-0.2, 1.2], "nice": false, "zero": false}, "axis": {"values": [-0.2, 0, 0.2, 0.4, 0.6, 0.8, 1.0, 1.2], "title": "VC (kV)", "labelExpr": "replace(format(datum.value, '.2f'), '−', '-')"}}
    },
    "layer": [
      {"data": {"name": "vc"}, "mark": {"type": "line", "strokeWidth": 1.6, "interpolate": "monotone"},
       "encoding": {"color": {"field": "s", "type": "nominal", "scale": {"domain": ["VC"], "range": ["#2b2b8c"]}, "legend": null}}},
      {"data": {"name": "vc"}, "transform": [{"filter": "datum.m == 1"}], "mark": {"type": "point", "size": 60, "strokeWidth": 1.3},
       "encoding": {
         "shape": {"field": "s", "type": "nominal", "scale": {"domain": ["VC"], "range": ["circle"]}, "legend": null},
         "stroke": {"field": "s", "type": "nominal", "scale": {"domain": ["VC"], "range": ["#6a6aae"]}, "legend": null}}},
      {"data": {"values": [{"t": -19.08, "v": 1.334, "s": "VC"}]},
       "mark": {"type": "point", "size": 85, "strokeWidth": 1.2, "stroke": "#666", "opacity": 1},
       "encoding": {"shape": {"field": "s", "type": "nominal", "legend": null}}},
      {"data": {"values": [{"t": -16.83, "v": 1.334, "label": "VC"}]},
       "mark": {"type": "text", "align": "left", "baseline": "middle", "fontSize": 18, "color": "#222"},
       "encoding": {"text": {"field": "label"}}},
      {"data": {"name": "tl"}, "mark": {"type": "rule", "strokeDash": [8, 5], "strokeWidth": 1.5, "color": "#444"},
       "encoding": {"y": {"datum": 1.2}, "y2": {"datum": -0.565}}},
      {"data": {"values": [{"t": -3.1, "t2": 0, "v": 0.6}, {"t": 4.52, "t2": 12.55, "v": 0.6}, {"t": 12.55, "t2": 44.4, "v": 0.6}]},
       "mark": {"type": "rule", "strokeWidth": 2.5, "color": "#000"},
       "encoding": {"x2": {"field": "t2"}}},
      {"data": {"values": [{"t": -0.45, "v": 0.6}, {"t": 12.05, "v": 0.6}, {"t": 43.9, "v": 0.6}]},
       "mark": {"type": "point", "shape": "triangle-right", "filled": true, "color": "#000", "size": 90, "opacity": 1}},
      {"data": {"values": [{"t": 5.0, "v": 0.6}, {"t": 13.05, "v": 0.6}]},
       "mark": {"type": "point", "shape": "triangle-left", "filled": true, "color": "#000", "size": 90, "opacity": 1}},
      {"data": {"values": [{"t": -15.2, "v": 0.686, "label": "Stage 1"}, {"t": 4.7, "v": 0.753, "label": "Stage 2"}, {"t": 24.1, "v": 0.753, "label": "Stage 3"}, {"t": 45.6, "v": 0.61, "label": "Steady State"}]},
       "mark": {"type": "text", "align": "left", "baseline": "middle", "fontSize": 21, "color": "#111"},
       "encoding": {"text": {"field": "label"}}},
      {"data": {"values": [{"t": -16.04, "v": 0.485, "label": "("}, {"t": -13.55, "v": 0.485, "label": "= 4.52 ms)"}]},
       "mark": {"type": "text", "align": "left", "baseline": "middle", "fontSize": 22, "font": "Liberation Serif", "color": "#111"},
       "encoding": {"text": {"field": "label"}}},
      {"data": {"values": [{"t": -15.32, "v": 0.485, "label": "t"}]},
       "mark": {"type": "text", "align": "left", "baseline": "middle", "fontSize": 22, "font": "Liberation Serif", "fontStyle": "italic", "color": "#111"},
       "encoding": {"text": {"field": "label"}}},
      {"data": {"values": [{"t": -14.72, "v": 0.45, "label": "1"}]},
       "mark": {"type": "text", "align": "left", "baseline": "middle", "fontSize": 14, "font": "Liberation Serif", "color": "#111"},
       "encoding": {"text": {"field": "label"}}},
      {"data": {"values": [{"t": 4.52, "v": 0}]},
       "mark": {"type": "point", "shape": "M-1,-1L1,1M-1,1L1,-1", "size": 160, "strokeWidth": 3, "color": "#000", "opacity": 1}}
    ]
  },
  {
    "width": 783, "height": 190,
    "encoding": {
      "x": {"field": "t", "type": "quantitative", "scale": {"domain": [-20, 60], "nice": false, "zero": false}, "axis": {"values": [-20, 0, 20, 40, 60], "labels": false, "ticks": false, "domain": false, "grid": true, "title": null}},
      "y": {"field": "v", "type": "quantitative", "scale": {"domain": [-0.5, 3.0], "nice": false, "zero": false}, "axis": {"values": [-0.5, 0, 0.5, 1.0, 1.5, 2.0, 2.5, 3.0], "title": "I_cable, I_C, I_VSI, (kA)", "labelExpr": "replace(format(datum.value, '.2f'), '−', '-')"}}
    },
    "layer": [
      {"data": {"name": "p2"}, "mark": {"type": "line", "strokeWidth": 1.6, "interpolate": "monotone"},
       "encoding": {"color": {"field": "s", "type": "nominal", "scale": {"domain": ["I_cable", "I_C", "I_VSI"], "range": ["#2b2b8c", "#2f8f2f", "#8c2323"]}, "legend": null}}},
      {"data": {"name": "p2"}, "transform": [{"filter": "datum.m == 1"}], "mark": {"type": "point", "size": 60, "strokeWidth": 1.3},
       "encoding": {
         "shape": {"field": "s", "type": "nominal", "scale": {"domain": ["I_cable", "I_C", "I_VSI"], "range": ["circle", "square", "triangle-up"]}, "legend": null},
         "stroke": {"field": "s", "type": "nominal", "scale": {"domain": ["I_cable", "I_C", "I_VSI"], "range": ["#6a6aae", "#4f9f4f", "#a45e5e"]}, "legend": null}}},
      {"data": {"values": [{"t": -18.67, "v": 3.258, "s": "I_cable"}, {"t": 7.84, "v": 3.258, "s": "I_C"}, {"t": 34.25, "v": 3.258, "s": "I_VSI"}]},
       "mark": {"type": "point", "size": 85, "strokeWidth": 1.2, "stroke": "#666", "opacity": 1},
       "encoding": {"shape": {"field": "s", "type": "nominal", "legend": null}}},
      {"data": {"values": [{"t": -16.93, "v": 3.258, "label": "I_cable"}, {"t": 9.73, "v": 3.258, "label": "I_C"}, {"t": 36.09, "v": 3.258, "label": "I_VSI"}]},
       "mark": {"type": "text", "align": "left", "baseline": "middle", "fontSize": 18, "color": "#222"},
       "encoding": {"text": {"field": "label"}}},
      {"data": {"name": "tl"}, "mark": {"type": "rule", "strokeDash": [8, 5], "strokeWidth": 1.5, "color": "#444"},
       "encoding": {"y": {"datum": 3.0}, "y2": {"datum": -1.403}}}
    ]
  },
  {
    "width": 783, "height": 190,
    "encoding": {
      "x": {"field": "t", "type": "quantitative", "scale": {"domain": [-20, 60], "nice": false, "zero": false}, "axis": {"values": [-20, 0, 20, 40, 60], "labels": false, "ticks": false, "domain": false, "grid": true, "title": null}},
      "y": {"field": "v", "type": "quantitative", "scale": {"domain": [-0.1, 0.9], "nice": false, "zero": false}, "axis": {"values": [-0.1, 0, 0.1, 0.2, 0.3, 0.4, 0.5, 0.6, 0.7, 0.8, 0.9], "title": "I_D 1,2,3 (kA)", "labelExpr": "abs(datum.value - 0.9) < 0.001 || abs(datum.value + 0.1) < 0.001 ? replace(format(datum.value, '.2f'), '−', '-') : ''"}}
    },
    "layer": [
      {"data": {"name": "chat"}, "mark": {"type": "area", "opacity": 0.7, "interpolate": "linear"},
       "encoding": {"y2": {"datum": 0}, "color": {"field": "s", "type": "nominal", "scale": {"domain": ["I_D1", "I_D2", "I_D3"], "range": ["#2b2b8c", "#2f8f2f", "#8c2323"]}, "legend": null}}},
      {"data": {"name": "p3"}, "mark": {"type": "line", "strokeWidth": 1.6, "interpolate": "monotone"},
       "encoding": {"color": {"field": "s", "type": "nominal", "legend": null}}},
      {"data": {"name": "p3"}, "transform": [{"filter": "datum.m == 1"}], "mark": {"type": "point", "size": 60, "strokeWidth": 1.3},
       "encoding": {
         "shape": {"field": "s", "type": "nominal", "scale": {"domain": ["I_D1", "I_D2", "I_D3"], "range": ["circle", "square", "triangle-up"]}, "legend": null},
         "stroke": {"field": "s", "type": "nominal", "scale": {"domain": ["I_D1", "I_D2", "I_D3"], "range": ["#6a6aae", "#4f9f4f", "#a45e5e"]}, "legend": null}}},
      {"data": {"values": [{"t": -18.77, "v": 0.986, "s": "I_D1"}, {"t": 7.84, "v": 0.986, "s": "I_D2"}, {"t": 34.25, "v": 0.986, "s": "I_D3"}]},
       "mark": {"type": "point", "size": 85, "strokeWidth": 1.2, "stroke": "#666", "opacity": 1},
       "encoding": {"shape": {"field": "s", "type": "nominal", "legend": null}}},
      {"data": {"values": [{"t": -17.04, "v": 0.986, "label": "I_D1"}, {"t": 9.53, "v": 0.986, "label": "I_D2"}, {"t": 36.09, "v": 0.986, "label": "I_D3"}]},
       "mark": {"type": "text", "align": "left", "baseline": "middle", "fontSize": 18, "color": "#222"},
       "encoding": {"text": {"field": "label"}}},
      {"data": {"name": "tl"}, "mark": {"type": "rule", "strokeDash": [8, 5], "strokeWidth": 1.5, "color": "#444"},
       "encoding": {"y": {"datum": 0.9}, "y2": {"datum": -0.358}}},
      {"data": {"values": [{"t": 12.6, "v": 0}]},
       "mark": {"type": "point", "shape": "M-1,-1L1,1M-1,1L1,-1", "size": 160, "strokeWidth": 3, "color": "#000", "opacity": 1}}
    ]
  },
  {
    "width": 783, "height": 188,
    "encoding": {
      "x": {"field": "t", "type": "quantitative", "scale": {"domain": [-20, 60], "nice": false, "zero": false}, "axis": {"values": [-20, 0, 20, 40, 60], "offset": 18, "title": "Time (ms)", "grid": true, "tickSize": 5, "labelPadding": 6, "titlePadding": 8, "titleX": 403, "labelFlush": false, "domainWidth": 1.5, "labelExpr": "replace(datum.label, '−', '-')"}},
      "y": {"field": "v", "type": "quantitative", "scale": {"domain": [-0.4, 0.3], "nice": false, "zero": false}, "axis": {"values": [-0.4, -0.3, -0.2, -0.1, 0, 0.1, 0.2, 0.3], "title": "Ig a,b,c (kA)", "labelExpr": "replace(format(datum.value, '.2f'), '−', '-')"}}
    },
    "layer": [
      {"data": {"name": "p4"}, "mark": {"type": "line", "strokeWidth": 1.6, "interpolate": "monotone"},
       "encoding": {"color": {"field": "s", "type": "nominal", "scale": {"domain": ["Iga", "Igb", "Igc"], "range": ["#2b2b8c", "#2f8f2f", "#8c2323"]}, "legend": null}}},
      {"data": {"name": "p4"}, "transform": [{"filter": "datum.m == 1"}], "mark": {"type": "point", "size": 60, "strokeWidth": 1.3},
       "encoding": {
         "shape": {"field": "s", "type": "nominal", "scale": {"domain": ["Iga", "Igb", "Igc"], "range": ["circle", "square", "triangle-up"]}, "legend": null},
         "stroke": {"field": "s", "type": "nominal", "scale": {"domain": ["Iga", "Igb", "Igc"], "range": ["#6a6aae", "#4f9f4f", "#a45e5e"]}, "legend": null}}},
      {"data": {"values": [{"t": -18.77, "v": 0.361, "s": "Iga"}, {"t": 7.69, "v": 0.361, "s": "Igb"}, {"t": 34.25, "v": 0.361, "s": "Igc"}]},
       "mark": {"type": "point", "size": 85, "strokeWidth": 1.2, "stroke": "#666", "opacity": 1},
       "encoding": {"shape": {"field": "s", "type": "nominal", "legend": null}}},
      {"data": {"values": [{"t": -16.83, "v": 0.361, "label": "Iga"}, {"t": 9.73, "v": 0.361, "label": "Igb"}, {"t": 36.29, "v": 0.361, "label": "Igc"}]},
       "mark": {"type": "text", "align": "left", "baseline": "middle", "fontSize": 18, "color": "#222"},
       "encoding": {"text": {"field": "label"}}},
      {"data": {"name": "tl"}, "mark": {"type": "rule", "strokeDash": [8, 5], "strokeWidth": 1.5, "color": "#444"},
       "encoding": {"y": {"datum": 0.3}, "y2": {"datum": -0.4}}},
      {"data": {"values": [{"t": 4.52, "v": -0.425, "v2": -0.49}, {"t": 12.55, "v": -0.425, "v2": -0.49}]},
       "mark": {"type": "rule", "strokeWidth": 2.5, "color": "#000"},
       "encoding": {"y2": {"field": "v2"}}},
      {"data": {"values": [{"t": 4.52, "v": -0.416}, {"t": 12.55, "v": -0.416}]},
       "mark": {"type": "point", "shape": "triangle-up", "filled": true, "color": "#000", "size": 90, "opacity": 1}},
      {"data": {"values": [{"t": 4.26, "v": -0.545, "label": "t"}, {"t": 12.46, "v": -0.545, "label": "t"}]},
       "mark": {"type": "text", "align": "center", "baseline": "middle", "fontSize": 24, "font": "Liberation Serif", "fontStyle": "italic", "color": "#111"},
       "encoding": {"text": {"field": "label"}}},
      {"data": {"values": [{"t": 5.1, "v": -0.57, "label": "1"}, {"t": 13.38, "v": -0.57, "label": "2"}]},
       "mark": {"type": "text", "align": "center", "baseline": "middle", "fontSize": 16, "font": "Liberation Serif", "color": "#111"},
       "encoding": {"text": {"field": "label"}}}
    ]
  }
]
}
